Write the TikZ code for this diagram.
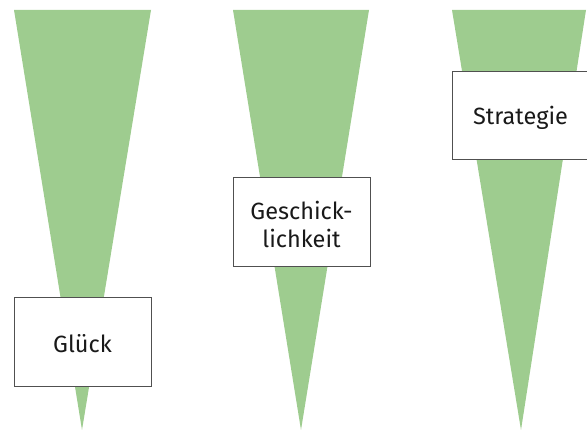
\documentclass[tikz,border=0pt]{standalone}
\usepackage{fontspec}
\setmainfont{Fira Sans}[Scale=1]
\definecolor{tri}{RGB}{158,204,143}
\definecolor{frame}{RGB}{80,80,80}
\tikzset{
  x=1pt,y=-1pt,
  wedge/.style={fill=tri,draw=none},
  label box/.style={draw=frame,line width=0.9pt,fill=white,inner sep=0pt},
  label text/.style={align=center,inner sep=0pt,
    font=\fontsize{23.5}{28}\selectfont\color{black!90}},
}
\begin{document}
\begin{tikzpicture}
\useasboundingbox (0,0) rectangle (587,430);
\begin{scope}
\clip (0,0) rectangle (587,430);
% wedges
\fill[wedge] (14,10) -- (151,10) -- (82,430) -- cycle;
\fill[wedge] (233,10) -- (369,10) -- (301,430) -- cycle;
\fill[wedge] (452,10) -- (586,10) -- (521,430) -- cycle;
% boxes
\node[label box,minimum width=137,minimum height=89] (g) at (82.5,341.5) {};
\node[label box,minimum width=137,minimum height=89] (s) at (301.5,221.5) {};
\node[label box,minimum width=137,minimum height=88] (t) at (520.5,115.5) {};
% texts
\node[label text] (gt) at ([yshift=-2.5pt]g.center) {Glück};
\node[label text] (st) at ([yshift=-2.5pt]s.center) {Geschick-\\lichkeit};
\node[label text] (tt) at ([yshift=-2.5pt]t.center) {Strategie};
\end{scope}
\end{tikzpicture}
\end{document}
